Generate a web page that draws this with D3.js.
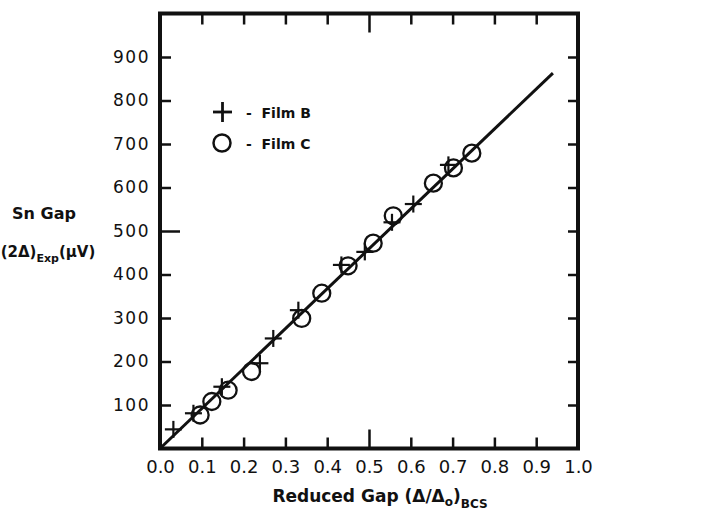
<!DOCTYPE html>
<html><head><meta charset="utf-8">
<script src="https://cdn.jsdelivr.net/npm/d3@7"></script>
<style>body{margin:0;background:#fff}svg{display:block}text{font-family:"DejaVu Sans",sans-serif;fill:#111}</style>
</head><body><div id="c"></div>
<script>
const xTicks=[0,0.1,0.2,0.3,0.4,0.5,0.6,0.7,0.8,0.9,1.0];
const xTickLabels=["0.0","0.1","0.2","0.3","0.4","0.5","0.6","0.7","0.8","0.9","1.0"];
const yTicks=[100,200,300,400,500,600,700,800,900];
const filmBx=[0.032,0.080,0.148,0.239,0.271,0.331,0.434,0.490,0.555,0.606,0.690];
const filmBy=[44,81,142,196,253,318,422,452,520,562,652];
const filmCx=[0.096,0.124,0.163,0.219,0.339,0.387,0.450,0.510,0.558,0.654,0.702,0.746];
const filmCy=[77,108,134,177,299,357,420,472,535,610,645,679];
const fitX=[0,0.94];
const fitY=[0,863];

const W=705,H=519;
const svg=d3.select("#c").append("svg").attr("width",W).attr("height",H);
const x=d3.scaleLinear().domain([0,1]).range([160,578]);
const y=d3.scaleLinear().domain([0,1000]).range([448.5,13.5]);
const ink="#111";

svg.append("rect").attr("x",x(0)).attr("y",y(1000)).attr("width",x(1)-x(0)).attr("height",y(0)-y(1000))
  .attr("fill","none").attr("stroke",ink).attr("stroke-width",4);

const inner=xTicks.filter(d=>d>0&&d<1);
const gb=svg.append("g").attr("transform",`translate(0,${y(0)})`)
  .call(d3.axisBottom(x).tickValues(inner).tickSize(0).tickFormat(""));
gb.select(".domain").remove();
gb.selectAll(".tick").append("line").attr("y1",0).attr("y2",d=>d===0.5?-19:-11).attr("stroke",ink).attr("stroke-width",2.5);
const gt=svg.append("g").attr("transform",`translate(0,${y(1000)})`)
  .call(d3.axisTop(x).tickValues(inner).tickSize(0).tickFormat(""));
gt.select(".domain").remove();
gt.selectAll(".tick").append("line").attr("y1",0).attr("y2",d=>d===0.5?19:11).attr("stroke",ink).attr("stroke-width",2.5);
const gl=svg.append("g").attr("transform",`translate(0,${y(0)})`)
  .call(d3.axisBottom(x).tickValues(xTicks).tickSize(0).tickPadding(12).tickFormat((d,i)=>xTickLabels[i]));
gl.select(".domain").remove();
gl.selectAll("text").attr("font-size",18).attr("fill",ink).attr("font-family","DejaVu Sans");

const gy=svg.append("g").attr("transform",`translate(${x(0)},0)`)
  .call(d3.axisLeft(y).tickValues(yTicks).tickSize(0).tickPadding(10).tickFormat(d3.format("d")));
gy.select(".domain").remove();
gy.selectAll("text").attr("font-size",17).attr("fill",ink).attr("letter-spacing","1.5px").attr("font-family","DejaVu Sans");
gy.selectAll(".tick").append("line").attr("x1",0).attr("x2",d=>d===500?20:11).attr("stroke",ink).attr("stroke-width",2.5);
const gr=svg.append("g").attr("transform",`translate(${x(1)},0)`)
  .call(d3.axisRight(y).tickValues(yTicks).tickSize(0).tickFormat(""));
gr.select(".domain").remove();
gr.selectAll(".tick").append("line").attr("x1",0).attr("x2",-10).attr("stroke",ink).attr("stroke-width",2.5);

const line=d3.line().x(d=>x(d[0])).y(d=>y(d[1]));
svg.append("path").datum(d3.zip(fitX,fitY)).attr("d",line).attr("fill","none").attr("stroke",ink).attr("stroke-width",3);

svg.append("g").selectAll("circle").data(d3.zip(filmCx,filmCy)).join("circle")
  .attr("cx",d=>x(d[0])).attr("cy",d=>y(d[1])).attr("r",8.5).attr("fill","none").attr("stroke",ink).attr("stroke-width",2.3);
const cs=8.5;
const gc=svg.append("g").selectAll("g").data(d3.zip(filmBx,filmBy)).join("g")
  .attr("transform",d=>`translate(${x(d[0])},${y(d[1])})`);
gc.append("line").attr("x1",-cs).attr("x2",cs).attr("stroke",ink).attr("stroke-width",2.2);
gc.append("line").attr("y1",-cs).attr("y2",cs).attr("stroke",ink).attr("stroke-width",2.2);

const lg=svg.append("g");
lg.append("line").attr("x1",213).attr("x2",232).attr("y1",112).attr("y2",112).attr("stroke",ink).attr("stroke-width",2.8);
lg.append("line").attr("x1",222.5).attr("x2",222.5).attr("y1",102).attr("y2",122).attr("stroke",ink).attr("stroke-width",2.8);
lg.append("circle").attr("cx",222).attr("cy",143).attr("r",8.5).attr("fill","none").attr("stroke",ink).attr("stroke-width",2.5);
lg.append("text").attr("x",246).attr("y",118).attr("font-size",14).attr("font-weight","bold").attr("xml:space","preserve").text("-  Film B");
lg.append("text").attr("x",246).attr("y",149).attr("font-size",14).attr("font-weight","bold").attr("xml:space","preserve").text("-  Film C");

const yt=svg.append("g");
yt.append("text").attr("x",44).attr("y",219).attr("text-anchor","middle").attr("font-size",16).attr("font-weight",600).text("Sn Gap");
const t2=yt.append("text").attr("x",48).attr("y",257).attr("text-anchor","middle").attr("font-size",15).attr("font-weight",600);
t2.append("tspan").text("(2Δ)");
t2.append("tspan").attr("font-size",11).attr("dy",5).text("Exp");
t2.append("tspan").attr("dy",-5).text("(μV)");

const xt=svg.append("text").attr("x",380).attr("y",502).attr("text-anchor","middle").attr("font-size",17).attr("font-weight",600);
xt.append("tspan").text("Reduced Gap (Δ/Δ");
xt.append("tspan").attr("font-size",12).attr("dy",4).text("o");
xt.append("tspan").attr("dy",-4).text(")");
xt.append("tspan").attr("font-size",12).attr("dy",6).text("BCS");
</script></body></html>
